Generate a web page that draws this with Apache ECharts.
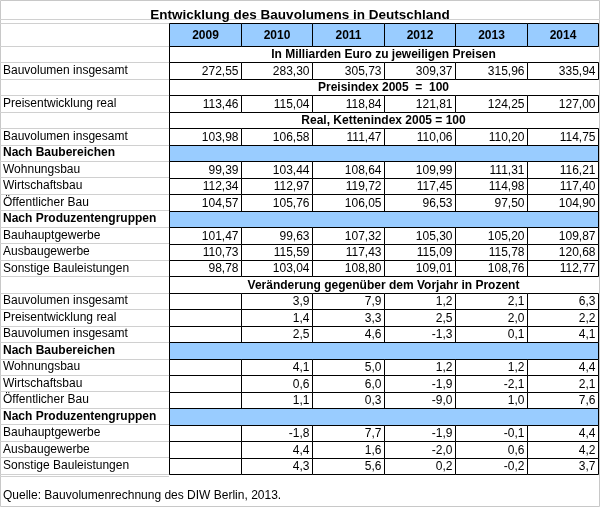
<!DOCTYPE html>
<html><head><meta charset="utf-8">
<script src="https://cdn.jsdelivr.net/npm/echarts@6/dist/echarts.min.js"></script>
<style>html,body{margin:0;padding:0;background:#fff}#c{width:600px;height:507px}</style>
</head><body><div id="c"></div><script>
const titleText = 'Entwicklung des Bauvolumens in Deutschland';
const sourceText = 'Quelle: Bauvolumenrechnung des DIW Berlin, 2013.';
const years = ['2009','2010','2011','2012','2013','2014'];

const bauvolumenNominal = [272.55, 283.30, 305.73, 309.37, 315.96, 335.94];
const preisentwicklung  = [113.46, 115.04, 118.84, 121.81, 124.25, 127.00];
const bauvolumenReal    = [103.98, 106.58, 111.47, 110.06, 110.20, 114.75];
const wohnungsbau       = [99.39, 103.44, 108.64, 109.99, 111.31, 116.21];
const wirtschaftsbau    = [112.34, 112.97, 119.72, 117.45, 114.98, 117.40];
const oeffentlicherBau  = [104.57, 105.76, 106.05, 96.53, 97.50, 104.90];
const bauhauptgewerbe   = [101.47, 99.63, 107.32, 105.30, 105.20, 109.87];
const ausbaugewerbe     = [110.73, 115.59, 117.43, 115.09, 115.78, 120.68];
const sonstigeBau       = [98.78, 103.04, 108.80, 109.01, 108.76, 112.77];

const bauvolumenNominalPct = [null, 3.9, 7.9, 1.2, 2.1, 6.3];
const preisentwicklungPct  = [null, 1.4, 3.3, 2.5, 2.0, 2.2];
const bauvolumenRealPct    = [null, 2.5, 4.6, -1.3, 0.1, 4.1];
const wohnungsbauPct       = [null, 4.1, 5.0, 1.2, 1.2, 4.4];
const wirtschaftsbauPct    = [null, 0.6, 6.0, -1.9, -2.1, 2.1];
const oeffentlicherBauPct  = [null, 1.1, 0.3, -9.0, 1.0, 7.6];
const bauhauptgewerbePct   = [null, -1.8, 7.7, -1.9, -0.1, 4.4];
const ausbaugewerbePct     = [null, 4.4, 1.6, -2.0, 0.6, 4.2];
const sonstigeBauPct       = [null, 4.3, 5.6, 0.2, -0.2, 3.7];

const rows = [
  {kind:'span', label:'', text:'In Milliarden Euro zu jeweiligen Preisen'},
  {kind:'data', label:'Bauvolumen insgesamt', values:bauvolumenNominal, dec:2},
  {kind:'span', label:'', text:'Preisindex 2005  =  100'},
  {kind:'data', label:'Preisentwicklung real', values:preisentwicklung, dec:2},
  {kind:'span', label:'', text:'Real, Kettenindex 2005 = 100'},
  {kind:'data', label:'Bauvolumen insgesamt', values:bauvolumenReal, dec:2},
  {kind:'section', label:'Nach Baubereichen'},
  {kind:'data', label:'Wohnungsbau', values:wohnungsbau, dec:2},
  {kind:'data', label:'Wirtschaftsbau', values:wirtschaftsbau, dec:2},
  {kind:'data', label:'Öffentlicher Bau', values:oeffentlicherBau, dec:2},
  {kind:'section', label:'Nach Produzentengruppen'},
  {kind:'data', label:'Bauhauptgewerbe', values:bauhauptgewerbe, dec:2},
  {kind:'data', label:'Ausbaugewerbe', values:ausbaugewerbe, dec:2},
  {kind:'data', label:'Sonstige Bauleistungen', values:sonstigeBau, dec:2},
  {kind:'span', label:'', text:'Veränderung gegenüber dem Vorjahr in Prozent'},
  {kind:'data', label:'Bauvolumen insgesamt', values:bauvolumenNominalPct, dec:1},
  {kind:'data', label:'Preisentwicklung real', values:preisentwicklungPct, dec:1},
  {kind:'data', label:'Bauvolumen insgesamt', values:bauvolumenRealPct, dec:1},
  {kind:'section', label:'Nach Baubereichen'},
  {kind:'data', label:'Wohnungsbau', values:wohnungsbauPct, dec:1},
  {kind:'data', label:'Wirtschaftsbau', values:wirtschaftsbauPct, dec:1},
  {kind:'data', label:'Öffentlicher Bau', values:oeffentlicherBauPct, dec:1},
  {kind:'section', label:'Nach Produzentengruppen'},
  {kind:'data', label:'Bauhauptgewerbe', values:bauhauptgewerbePct, dec:1},
  {kind:'data', label:'Ausbaugewerbe', values:ausbaugewerbePct, dec:1},
  {kind:'data', label:'Sonstige Bauleistungen', values:sonstigeBauPct, dec:1}
];

const FONT = '"Liberation Sans", Arial, sans-serif';
const BLUE = '#99ccff';
const GRAY = '#d0d0d0';

function fmt(v, dec){ return v == null ? '' : v.toFixed(dec).replace('.', ','); }

const cells = [];
rows.forEach((r, ri) => {
  if (r.kind === 'data') {
    r.values.forEach((v, ci) => cells.push({c:ci, r:ri, kind:'data', text:fmt(v, r.dec)}));
  } else {
    cells.push({c:0, r:ri, kind:r.kind, text:r.text || ''});
  }
});

const px = v => Math.round(v) + 0.5;

function renderBody(params, api){
  const cell = cells[params.dataIndex];
  const cs = params.coordSys;
  const p = api.coord([cell.c, cell.r]);
  const sz = api.size([1, 1]);
  const T = px(p[1] - sz[1]/2), B = px(p[1] + sz[1]/2);
  if (cell.kind === 'data') {
    const L = px(p[0] - sz[0]/2), R = px(p[0] + sz[0]/2);
    return {type:'group', children:[
      {type:'rect', shape:{x:L, y:T, width:R-L, height:B-T}, style:{fill:'#fff', stroke:'#000', lineWidth:1}},
      {type:'text', style:{text:cell.text, x:R-3, y:(T+B)/2+0.5, align:'right', verticalAlign:'middle', fontSize:12, fontFamily:FONT, fill:'#000'}}
    ]};
  }
  if (cell.kind === 'section') {
    const L = px(cs.x), R = px(cs.x + cs.width);
    return {type:'rect', shape:{x:L, y:T, width:R-L, height:B-T}, style:{fill:BLUE, stroke:'#000', lineWidth:1}};
  }
  return {type:'text', style:{text:cell.text, x:cs.x + cs.width/2, y:(T+B)/2+0.5, align:'center', verticalAlign:'middle', fontSize:12, fontWeight:'bold', fontFamily:FONT, fill:'#000'}};
}

function renderHeader(params, api){
  const p = api.coord([params.dataIndex, 0]);
  const sz = api.size([1, 1]);
  const L = px(p[0] - sz[0]/2), R = px(p[0] + sz[0]/2);
  const T = px(p[1] - sz[1]/2), B = px(p[1] + sz[1]/2);
  return {type:'group', children:[
    {type:'rect', shape:{x:L, y:T, width:R-L, height:B-T}, style:{fill:BLUE, stroke:'#000', lineWidth:1}},
    {type:'text', style:{text:years[params.dataIndex], x:(L+R)/2, y:(T+B)/2+0.5, align:'center', verticalAlign:'middle', fontSize:12, fontWeight:'bold', fontFamily:FONT, fill:'#000'}}
  ]};
}

const chart = echarts.init(document.getElementById('c'), null, {renderer:'canvas'});
chart.setOption({
  animation:false,
  backgroundColor:'#fff',
  title:{text:titleText, left:'center', top:3, textStyle:{fontSize:13.5, fontWeight:'bold', fontFamily:FONT, color:'#000'}},
  grid:[
    {left:169, width:429, top:23, height:23},
    {left:169, width:429, top:46, height:428}
  ],
  xAxis:[
    {type:'category', gridIndex:0, data:years, show:false},
    {type:'category', gridIndex:1, data:years, show:false}
  ],
  yAxis:[
    {type:'category', gridIndex:0, data:['h'], inverse:true,
     axisLine:{show:false}, axisLabel:{show:false},
     axisTick:{show:true, length:169, lineStyle:{color:GRAY}}},
    {type:'category', gridIndex:1, data:rows.map((r,i)=>'r'+i), inverse:true,
     axisLine:{show:true, lineStyle:{color:'#000', width:1}},
     axisTick:{show:true, length:169, interval:0, lineStyle:{color:GRAY}},
     axisLabel:{show:true, interval:0, align:'left', margin:166, fontSize:12, fontFamily:FONT, color:'#000',
       formatter:(v, i) => rows[i].kind === 'section' ? '{b|' + rows[i].label + '}' : rows[i].label,
       rich:{b:{fontSize:12, fontFamily:FONT, fontWeight:'bold', color:'#000'}}}}
  ],
  graphic:[
    {type:'rect', shape:{x:0.5, y:0.5, width:599, height:506}, style:{fill:'none', stroke:'#c8c8c8', lineWidth:1}, silent:true},
    {type:'line', shape:{x1:0, y1:19.5, x2:600, y2:19.5}, style:{stroke:GRAY, lineWidth:1}, silent:true},
    {type:'line', shape:{x1:0, y1:476.5, x2:169, y2:476.5}, style:{stroke:GRAY, lineWidth:1}, silent:true},
    {type:'text', left:3, top:490, style:{text:sourceText, fontSize:12, fontFamily:FONT, fill:'#000'}, silent:true}
  ],
  series:[
    {type:'custom', xAxisIndex:0, yAxisIndex:0, renderItem:renderHeader, data:years.map((y,i)=>[i,0]), silent:true},
    {type:'custom', xAxisIndex:1, yAxisIndex:1, renderItem:renderBody, data:cells.map(d=>[d.c, d.r]), silent:true}
  ]
});
</script></body></html>
